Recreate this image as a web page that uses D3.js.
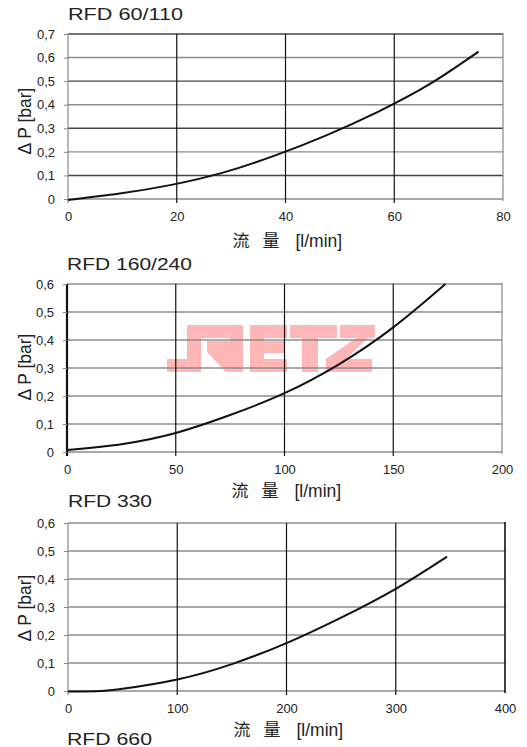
<!DOCTYPE html>
<html>
<head>
<meta charset="utf-8">
<script src="https://cdn.jsdelivr.net/npm/d3@7"></script>
<style>
  html, body { margin: 0; padding: 0; background: #fff; }
  svg { display: block; font-family: "Liberation Sans", Arial, sans-serif; }
</style>
</head>
<body>
<svg id="chart" width="527" height="747"></svg>
<script>
// ---------- data ----------
const titles = ["RFD 60/110", "RFD 160/240", "RFD 330", "RFD 660"];

const flow1 = [0, 9.5, 19, 28.5, 38, 47.5, 57, 66.5, 75.5];
const dp1   = [-0.004, 0.023, 0.06, 0.112, 0.184, 0.27, 0.37, 0.487, 0.625];
const xTicks1 = [0, 20, 40, 60, 80];
const yTicks1 = [0, 0.1, 0.2, 0.3, 0.4, 0.5, 0.6, 0.7];

const flow2 = [0, 25, 50, 75, 100, 125, 150, 174];
const dp2   = [0.007, 0.028, 0.068, 0.132, 0.21, 0.313, 0.445, 0.6];
const xTicks2 = [0, 50, 100, 150, 200];
const yTicks2 = [0, 0.1, 0.2, 0.3, 0.4, 0.5, 0.6];

const flow3 = [0, 25, 50, 100, 150, 200, 250, 300, 347];
const dp3   = [-0.002, -0.001, 0.008, 0.041, 0.096, 0.171, 0.262, 0.365, 0.48];
const xTicks3 = [0, 100, 200, 300, 400];
const yTicks3 = [0, 0.1, 0.2, 0.3, 0.4, 0.5, 0.6];

const xTitle = "[l/min]";
const xTitleCJK = ["流", "量"];
const yTitle = "Δ P [bar]";

// ---------- layout ----------
const svg = d3.select("#chart");
const FONT = "'Liberation Sans', Arial, sans-serif";
const CJK = "'Noto Sans CJK SC', 'Noto Sans CJK JP', sans-serif";

const yFmt = d => d === 0 ? "0" : d3.format(".1f")(d).replace(".", ",");

const charts = [
  { title: titles[0], titleW: 115, titleY: 20, flow: flow1, dp: dp1, xTicks: xTicks1, yTicks: yTicks1,
    xr: [68, 503], yr: [199, 34], leftColor: "#888", leftW: 1.2, rightColor: "#888", rightW: 1.2,
    gridColor: i => (i % 2 === 1 || i === 7) ? "#444" : "#8c8c8c", yTitleC: 121, xTitleY: 247 },
  { title: titles[1], titleW: 125, titleY: 270, flow: flow2, dp: dp2, xTicks: xTicks2, yTicks: yTicks2,
    xr: [67, 502], yr: [452, 284], leftColor: "#111", leftW: 2.2, rightColor: "#888", rightW: 1.2,
    gridColor: i => "#8c8c8c", yTitleC: 367, xTitleY: 497 },
  { title: titles[2], titleW: 84, titleY: 507, flow: flow3, dp: dp3, xTicks: xTicks3, yTicks: yTicks3,
    xr: [68, 505], yr: [691, 523], leftColor: "#888", leftW: 1.2, rightColor: "#111", rightW: 1.6,
    gridColor: i => "#8c8c8c", yTitleC: 608, xTitleY: 736 }
];

// ---------- watermark (drawn under the grids) ----------
const wm = [
  [[167,359],[201,359],[201,372],[167,372]],
  [[187,325],[201,325],[201,372],[187,372]],
  [[187,325],[243,325],[243,338],[187,338]],
  [[230,325],[243,325],[243,352],[230,352]],
  [[207,341],[243,341],[243,352],[207,352]],
  [[207,352],[243,352],[243,372],[226,372]],
  [[250,325],[287,325],[287,338],[250,338]],
  [[250,325],[264,325],[264,372],[250,372]],
  [[250,341],[284,341],[284,353],[250,353]],
  [[250,359],[287,359],[287,372],[250,372]],
  [[290,325],[337,325],[337,338],[290,338]],
  [[302,325],[318,325],[318,372],[302,372]],
  [[340,325],[375,325],[375,338],[340,338]],
  [[356,338],[375,331],[346,359],[326,359]],
  [[326,359],[372,359],[372,372],[326,372]]
];
svg.append("g").selectAll("path").data(wm).join("path")
  .attr("d", d => "M" + d.map(p => p.join(",")).join("L") + "Z")
  .attr("fill", "#ffb6b6");

// ---------- charts ----------
charts.forEach(c => {
  const x = d3.scaleLinear().domain([c.xTicks[0], c.xTicks[c.xTicks.length - 1]]).range(c.xr);
  const y = d3.scaleLinear().domain([c.yTicks[0], c.yTicks[c.yTicks.length - 1]]).range(c.yr);
  const g = svg.append("g");
  const y0 = y(0), yTop = y(c.yTicks[c.yTicks.length - 1]);

  // title
  g.append("text").attr("x", c.xr[0]).attr("y", c.titleY)
    .attr("font-size", 16.5).attr("fill", "#222")
    .attr("textLength", c.titleW).attr("lengthAdjust", "spacingAndGlyphs")
    .text(c.title);

  // horizontal grid lines
  g.append("g").selectAll("line").data(c.yTicks).join("line")
    .attr("x1", c.xr[0]).attr("x2", c.xr[1])
    .attr("y1", d => y(d)).attr("y2", d => y(d))
    .attr("stroke", (d, i) => c.gridColor(i)).attr("stroke-width", 1.4);

  // vertical grid lines (inner)
  g.append("g").selectAll("line").data(c.xTicks.slice(1, -1)).join("line")
    .attr("x1", d => x(d)).attr("x2", d => x(d))
    .attr("y1", yTop).attr("y2", y0 + 4)
    .attr("stroke", "#111").attr("stroke-width", 1.2);

  // left and right borders
  g.append("line").attr("x1", c.xr[0]).attr("x2", c.xr[0]).attr("y1", yTop).attr("y2", y0 + 4)
    .attr("stroke", c.leftColor).attr("stroke-width", c.leftW);
  g.append("line").attr("x1", c.xr[1]).attr("x2", c.xr[1]).attr("y1", yTop - 1).attr("y2", y0 + 2)
    .attr("stroke", c.rightColor).attr("stroke-width", c.rightW);

  // axes (labels + small ticks)
  const ay = g.append("g").attr("transform", `translate(${c.xr[0]},0)`)
    .call(d3.axisLeft(y).tickValues(c.yTicks).tickFormat(yFmt).tickSize(4).tickPadding(9));
  const ax = g.append("g").attr("transform", `translate(0,${y0})`)
    .call(d3.axisBottom(x).tickValues(c.xTicks).tickFormat(d3.format("d")).tickSize(0).tickPadding(13));
  [ay, ax].forEach(a => {
    a.select(".domain").remove();
    a.selectAll("line").attr("stroke", "#888");
    a.selectAll("text").attr("font-size", 13).attr("fill", "#222").attr("font-family", FONT);
  });

  // curve
  const pts = c.flow.map((f, i) => [f, c.dp[i]]);
  g.append("path").datum(pts)
    .attr("d", d3.line().x(d => x(d[0])).y(d => y(d[1])).curve(d3.curveNatural))
    .attr("fill", "none").attr("stroke", "#111").attr("stroke-width", 2);

  // x title
  const cx = (c.xr[0] + c.xr[1]) / 2 + 2;
  const xt = g.append("text").attr("x", cx - 55).attr("y", c.xTitleY).attr("fill", "#222");
  xt.append("tspan").attr("font-family", CJK).attr("font-size", 17).text(xTitleCJK[0]);
  xt.append("tspan").attr("dx", 13).attr("font-family", CJK).attr("font-size", 17).text(xTitleCJK[1]);
  xt.append("tspan").attr("dx", 16).attr("font-family", FONT).attr("font-size", 17.5).text(xTitle);

  // y title
  g.append("text").attr("transform", `translate(31,${c.yTitleC}) rotate(-90)`)
    .attr("text-anchor", "middle").attr("font-size", 17.5).attr("fill", "#222")
    .text(yTitle);
});

// fourth (cut off) title
svg.append("text").attr("x", 67).attr("y", 745)
  .attr("font-size", 16.5).attr("fill", "#222")
  .attr("textLength", 85).attr("lengthAdjust", "spacingAndGlyphs")
  .text(titles[3]);
</script>
</body>
</html>
